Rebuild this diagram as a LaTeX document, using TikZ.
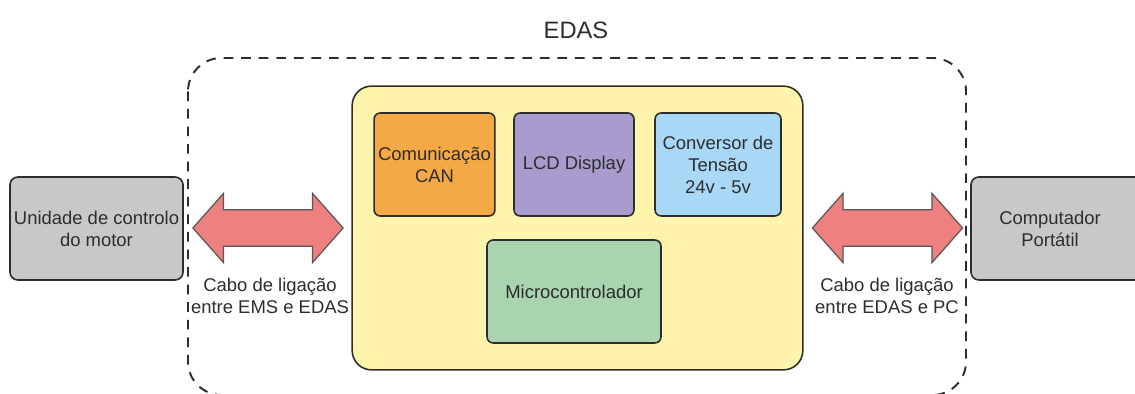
\documentclass[tikz,border=0pt]{standalone}
\usepackage{fontspec}
\setmainfont{Liberation Sans}
\usetikzlibrary{shapes.arrows}
\definecolor{edasyellow}{RGB}{255,244,172}
\definecolor{canorange}{RGB}{245,168,70}
\definecolor{lcdpurple}{RGB}{168,156,206}
\definecolor{convblue}{RGB}{168,216,246}
\definecolor{microgreen}{RGB}{168,212,176}
\definecolor{unitgray}{RGB}{200,200,200}
\definecolor{cablered}{RGB}{238,128,128}
\definecolor{edge}{RGB}{45,45,45}

\begin{document}
\begin{tikzpicture}[x=0.02cm,y=-0.02cm,
    every node/.style={font=\fontsize{10.5}{12.5}\selectfont,text=edge,align=center},
    block/.style={draw=edge,line width=0.9pt,rounded corners=3.5pt,inner sep=0pt},
    cable/.style={double arrow,draw=edge!80,line width=0.7pt,fill=cablered,
      inner xsep=0pt,inner ysep=10pt,minimum width=38.7pt,minimum height=85.5pt,
      double arrow head extend=9.4pt,double arrow tip angle=97}]
      \useasboundingbox (0,0) rectangle (1135,394);
      \draw[edge,line width=1.1pt,dash pattern=on 5.5pt off 4.5pt,rounded corners=19pt] (188,58) rectangle (966,395);
      \node[font=\fontsize{13.5}{16}\selectfont] (edas) at (576,30) {EDAS};
      \node[block,fill=edasyellow,rounded corners=11pt,minimum width=256.5pt,minimum height=161.5pt] (board) at (577.5,228) {};
      \node[block,fill=canorange,minimum width=68.8pt,minimum height=58.6pt] (can) at (434.5,164.5) {Comunicação\\CAN};
      \node[block,fill=lcdpurple,minimum width=68.3pt,minimum height=58.6pt] (lcd) at (574,164.5) {LCD Display};
      \node[block,fill=convblue,minimum width=71.7pt,minimum height=58.6pt] (conv) at (718,164.5) {Conversor de\\Tensão\\24v - 5v};
      \node[block,fill=microgreen,minimum width=99pt,minimum height=58.6pt] (micro) at (574,291.5) {Microcontrolador};
      \node[block,fill=unitgray,rounded corners=4.5pt,minimum width=98.5pt,minimum height=58.6pt] (ecu) at (96.5,228.5) {Unidade de controlo\\do motor};
      \draw[block,fill=unitgray,rounded corners=4.5pt] (971,177) rectangle (1160,280);
      \node (pc) at (1050,228.5) {Computador\\Portátil};
      \node[cable] (cabl) at (268,228) {};
      \node[cable] (cabr) at (887.5,228) {};
      \node (labl) at (270,296) {Cabo de ligação\\entre EMS e EDAS};
      \node (labr) at (887,296) {Cabo de ligação\\entre EDAS e PC};
\end{tikzpicture}
\end{document}
